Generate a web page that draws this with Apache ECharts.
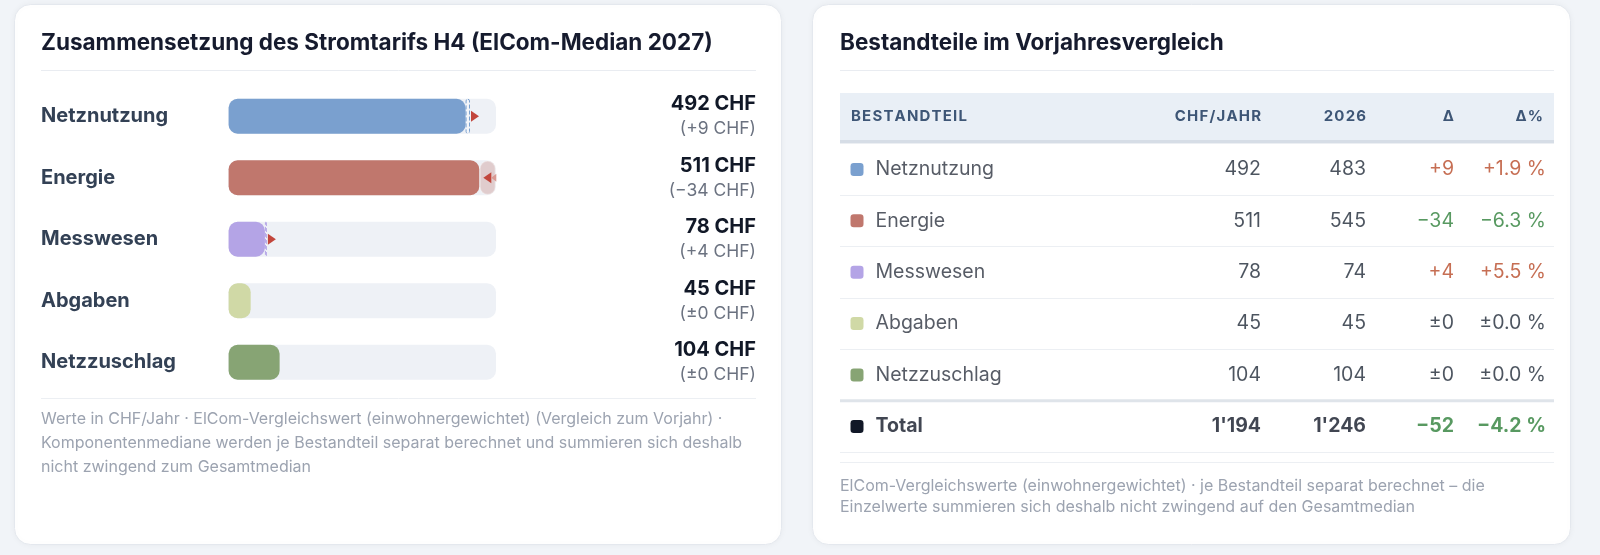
<!DOCTYPE html>
<html><head><meta charset="utf-8">
<script src="https://cdn.jsdelivr.net/npm/echarts@6/dist/echarts.min.js"></script>
<style>html,body{margin:0;padding:0;background:#f1f4f8;}#c{width:1600px;height:555px;}</style>
</head><body><div id="c"></div>
<script>
// ---------- data ----------
const categories = ['Netznutzung', 'Energie', 'Messwesen', 'Abgaben', 'Netzzuschlag'];
const values2027 = [492, 511, 78, 45, 104];
const values2026 = [483, 545, 74, 45, 104];
const deltaPct = [1.9, -6.3, 5.5, 0.0, 0.0];
const total2027 = 1194;
const total2026 = 1246;
const totalPct = -4.2;
const tableHeaders = ['BESTANDTEIL', 'CHF/JAHR', '2026', 'Δ', 'Δ%'];
const barMax = 545;
const leftTitle = 'Zusammensetzung des Stromtarifs H4 (ElCom-Median 2027)';
const rightTitle = 'Bestandteile im Vorjahresvergleich';
const leftNote = ['Werte in CHF/Jahr · ElCom-Vergleichswert (einwohnergewichtet) (Vergleich zum Vorjahr) ·',
  'Komponentenmediane werden je Bestandteil separat berechnet und summieren sich deshalb',
  'nicht zwingend zum Gesamtmedian'];
const rightNote = ['ElCom-Vergleichswerte (einwohnergewichtet) · je Bestandteil separat berechnet – die',
  'Einzelwerte summieren sich deshalb nicht zwingend auf den Gesamtmedian'];

// ---------- styles ----------
const colors = ['#7aa0cf', '#c0776d', '#b4a4e6', '#d0d9a6', '#87a474'];
const totalColor = '#111827';
const FONT = 'Inter, "Noto Sans", sans-serif';

const fmtNum = v => String(v).replace(/\B(?=(\d{3})+(?!\d))/g, "'");
const fmtDelta = d => d > 0 ? '+' + d : d < 0 ? '\u2212' + Math.abs(d) : '\u00b10';
const fmtPct = p => p > 0 ? '+' + p.toFixed(1) + ' %' : p < 0 ? '\u2212' + Math.abs(p).toFixed(1) + ' %' : '\u00b10.0 %';
const deltaColor = d => d > 0 ? '#b84a28' : d < 0 ? '#2e7f3a' : '#1f2937';
const spaced = t => t.split('').join('\u200A');

const deltas = values2027.map((v, i) => v - values2026[i]);
const rowsT = categories.concat(['Total']);
const curT = values2027.concat([total2027]);
const prevT = values2026.concat([total2026]);
const dT = curT.map((v, i) => v - prevT[i]);
const pT = deltaPct.concat([totalPct]);
const swT = colors.concat([totalColor]);

// layout
const GL = 228.6, GT = 85.5, GW = 267.4, GH = 307.5;
const TL = 840, TT = 143.7, TW = 714, RH = 51.4;
const col = { sw: 17, name: 35.5, cur: 421, prev: 526, d: 614, p: 706 };
const BODY = 19.5, HEAD = 15, NOTE = 16;

function cellSeries(x, texts, align, styleFn) {
  return {
    type: 'scatter', xAxisIndex: 1, yAxisIndex: 2, symbolSize: 1, silent: true, z: 5,
    itemStyle: { color: 'rgba(0,0,0,0)' },
    data: rowsT.map((r, i) => ({
      value: [x, i],
      label: Object.assign({
        show: true, position: 'inside', align: align, verticalAlign: 'middle',
        formatter: texts[i], fontFamily: FONT, fontSize: BODY, color: '#1f2937'
      }, styleFn ? styleFn(i) : {})
    }))
  };
}
const isTotal = i => i === rowsT.length - 1;
const headStyle = (t, x, align) => ({ type: 'text', z: 2, style: { text: spaced(t), x: x, y: 116.5, verticalAlign: 'middle', align: align, fontSize: HEAD, fontWeight: 'bold', fill: '#3e5676', fontFamily: FONT } });

const option = {
  animation: false,
  textStyle: { fontFamily: FONT },
  grid: [
    { left: GL, top: GT, width: GW, height: GH },
    { left: TL, top: TT, width: TW, height: RH * rowsT.length }
  ],
  xAxis: [
    { gridIndex: 0, type: 'value', min: 0, max: barMax, show: false },
    { gridIndex: 1, type: 'value', min: 0, max: TW, show: false }
  ],
  yAxis: [
    { gridIndex: 0, type: 'category', data: categories, inverse: true,
      axisLine: { show: false }, axisTick: { show: false }, splitLine: { show: false },
      axisLabel: { align: 'left', margin: GL - 41, fontSize: 20, fontWeight: 'bold', color: '#334155', fontFamily: FONT } },
    { gridIndex: 0, type: 'category', data: categories, inverse: true, position: 'right',
      axisLine: { show: false }, axisTick: { show: false }, splitLine: { show: false },
      axisLabel: { align: 'right', margin: 756 - (GL + GW),
        formatter: (v, i) => '{v|' + values2027[i] + ' CHF}\n{d|(' + fmtDelta(deltas[i]) + ' CHF)}',
        rich: {
          v: { fontSize: 20, fontWeight: 'bold', color: '#111827', lineHeight: 25, align: 'right', fontFamily: FONT },
          d: { fontSize: 17.5, color: '#6b7280', lineHeight: 24, align: 'right', fontFamily: FONT }
        } } },
    { gridIndex: 1, type: 'category', data: rowsT, inverse: true,
      axisLine: { show: false }, axisTick: { show: false }, axisLabel: { show: false },
      splitLine: { show: true, interval: 0, lineStyle: { color: '#eceff3', width: 1 } } }
  ],
  series: [
    { type: 'bar', xAxisIndex: 0, yAxisIndex: 0, stack: 'a', barWidth: 35, silent: true,
      showBackground: true, backgroundStyle: { color: '#eef1f6', borderRadius: 9 },
      data: values2027.map((v, i) => ({ value: Math.min(v, values2026[i]), itemStyle: { color: colors[i], borderRadius: 9 } })) },
    { type: 'bar', xAxisIndex: 0, yAxisIndex: 0, stack: 'a', barWidth: 35, silent: true,
      data: deltas.map((d, i) => d > 0 ? ({ value: d,
        itemStyle: { color: '#f4f6fa', borderColor: colors[i], borderWidth: 1, borderType: 'dashed', borderRadius: 2 } }) : '-') },
    { type: 'bar', xAxisIndex: 0, yAxisIndex: 0, stack: 'a', barWidth: 35, silent: true,
      data: deltas.map((d, i) => d < 0 ? ({ value: -d,
        itemStyle: { color: colors[i], opacity: 0.3, borderColor: '#ffffff', borderWidth: 1.5, borderRadius: 9 } }) : '-') },
    { type: 'scatter', xAxisIndex: 0, yAxisIndex: 0, symbol: 'triangle', silent: true, z: 6,
      itemStyle: { color: '#c2463c', opacity: 1 },
      data: deltas.map((d, i) => d === 0 ? null : ({
        value: [values2027[i], i], symbolSize: [11, 8],
        symbolRotate: d > 0 ? -90 : 90, symbolOffset: d > 0 ? [5, 0] : [8, 0] })).filter(x => x) },
    { type: 'scatter', xAxisIndex: 0, yAxisIndex: 0, symbol: 'triangle', silent: true, z: 6,
      itemStyle: { color: '#d99a93', opacity: 1 },
      data: deltas.map((d, i) => d < 0 ? ({
        value: [values2027[i], i], symbolSize: [8, 5], symbolRotate: 90, symbolOffset: [14.5, 0] }) : null).filter(x => x) },
    // table
    { type: 'scatter', xAxisIndex: 1, yAxisIndex: 2, symbol: 'roundRect', symbolSize: 13, silent: true, z: 5,
      data: rowsT.map((r, i) => ({ value: [col.sw, i], itemStyle: { color: swT[i], opacity: 1 } })) },
    cellSeries(col.name, rowsT, 'left', i => isTotal(i) ? { fontWeight: 'bold', color: '#111827' } : { color: '#2d3340' }),
    cellSeries(col.cur, curT.map(fmtNum), 'right', i => isTotal(i) ? { fontWeight: 'bold', color: '#111827' } : {}),
    cellSeries(col.prev, prevT.map(fmtNum), 'right', i => isTotal(i) ? { fontWeight: 'bold', color: '#111827' } : {}),
    cellSeries(col.d, dT.map(fmtDelta), 'right', i => ({ color: deltaColor(dT[i]), fontWeight: isTotal(i) ? 'bold' : 'normal' })),
    cellSeries(col.p, pT.map(fmtPct), 'right', i => ({ color: deltaColor(dT[i]), fontWeight: isTotal(i) ? 'bold' : 'normal' }))
  ],
  graphic: [
    // cards
    { type: 'rect', shape: { x: 14.5, y: 4.5, width: 767, height: 540, r: 16 }, z: -10,
      style: { fill: '#ffffff', stroke: '#e4e8ee', lineWidth: 1, shadowBlur: 6, shadowColor: 'rgba(15,23,42,0.05)' } },
    { type: 'rect', shape: { x: 812.5, y: 4.5, width: 758, height: 540, r: 16 }, z: -10,
      style: { fill: '#ffffff', stroke: '#e4e8ee', lineWidth: 1, shadowBlur: 6, shadowColor: 'rgba(15,23,42,0.05)' } },
    // titles
    { type: 'text', z: 1, style: { text: leftTitle, x: 41, y: 43, verticalAlign: 'middle', fontSize: 22.5, fontWeight: 'bold', fill: '#161b2e', fontFamily: FONT } },
    { type: 'text', z: 1, style: { text: rightTitle, x: 840, y: 43, verticalAlign: 'middle', fontSize: 22.5, fontWeight: 'bold', fill: '#161b2e', fontFamily: FONT } },
    // separators
    { type: 'line', z: 1, shape: { x1: 41, y1: 70.5, x2: 756, y2: 70.5 }, style: { stroke: '#e9ecf1', lineWidth: 1 } },
    { type: 'line', z: 1, shape: { x1: 840, y1: 70.5, x2: 1554, y2: 70.5 }, style: { stroke: '#e9ecf1', lineWidth: 1 } },
    { type: 'line', z: 1, shape: { x1: 41, y1: 398.5, x2: 756, y2: 398.5 }, style: { stroke: '#eceff3', lineWidth: 1 } },
    { type: 'line', z: 1, shape: { x1: 840, y1: 462.5, x2: 1554, y2: 462.5 }, style: { stroke: '#eceff3', lineWidth: 1 } },
    // table header band
    { type: 'rect', z: 1, shape: { x: 840, y: 93, width: TW, height: 47 }, style: { fill: '#e9eff6' } },
    { type: 'line', z: 1, shape: { x1: 840, y1: 141.5, x2: 1554, y2: 141.5 }, style: { stroke: '#d6dde6', lineWidth: 3 } },
    { type: 'line', z: 1, shape: { x1: 840, y1: TT + RH * 5, x2: 1554, y2: TT + RH * 5 }, style: { stroke: '#dfe4ea', lineWidth: 3 } },
    headStyle(tableHeaders[0], TL + 11, 'left'),
    headStyle(tableHeaders[1], TL + col.cur, 'right'),
    headStyle(tableHeaders[2], TL + col.prev, 'right'),
    headStyle(tableHeaders[3], TL + col.d, 'right'),
    headStyle(tableHeaders[4], TL + col.p - 3, 'right'),
    // notes
    { type: 'text', z: 1, style: { text: leftNote.join('\n'), x: 41, y: 407, lineHeight: 24, fontSize: NOTE, fill: '#9ca3b0', fontFamily: FONT } },
    { type: 'text', z: 1, style: { text: rightNote.join('\n'), x: 840, y: 475, lineHeight: 21.5, fontSize: NOTE, fill: '#9ca3b0', fontFamily: FONT } }
  ]
};
const chart = echarts.init(document.getElementById('c'));
chart.setOption(option);
</script></body></html>
